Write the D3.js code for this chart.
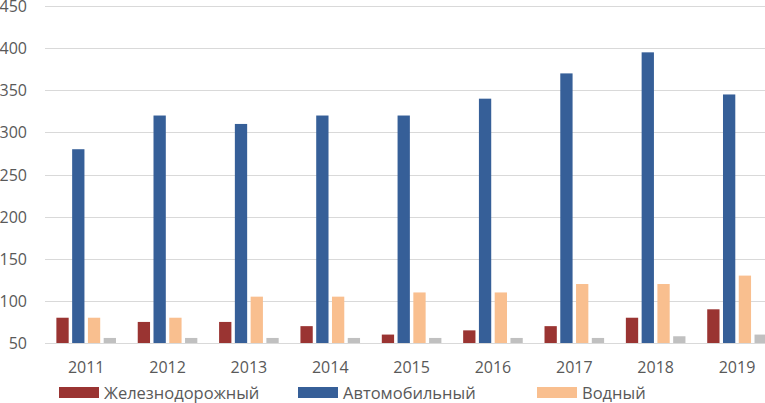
<!DOCTYPE html>
<html><head><meta charset="utf-8">
<script src="https://cdn.jsdelivr.net/npm/d3@7/dist/d3.min.js"></script>
<style>html,body{margin:0;padding:0;background:#fff;overflow:hidden}svg{display:block}</style>
</head><body><svg id="c" width="765" height="403"></svg>
<script>
const categories = ["2011","2012","2013","2014","2015","2016","2017","2018","2019"];
const seriesNames = ["Железнодорожный","Автомобильный","Водный","Воздушный"];
const rail  = [80, 75, 75, 70, 60, 65, 70, 80, 90];
const auto  = [280, 320, 310, 320, 320, 340, 370, 395, 345];
const water = [80, 80, 105, 105, 110, 110, 120, 120, 130];
const air   = [56, 56, 56, 56, 56, 56, 56, 58, 60];
const yTicks = [50,100,150,200,250,300,350,400,450];
const colors = ["#9A3432","#365F98","#F9BF8F","#C0C0C0"];
const legendShown = 3;

const svg = d3.select("#c");
const font = "'Open Sans', sans-serif";
const x0 = d3.scaleBand().domain(categories).range([45.5, 777.7]).paddingInner(0).paddingOuter(0);
const y = d3.scaleLinear().domain([50,450]).range([343,6]);
const seriesData = [rail, auto, water, air];
const x1 = d3.scaleBand().domain(d3.range(4)).range([0, 59.6]).paddingInner(0.22).paddingOuter(0);

// gridlines
svg.append("g").selectAll("line").data(yTicks).join("line")
  .attr("x1",45).attr("x2",765)
  .attr("y1",d=>Math.round(y(d))+0.5).attr("y2",d=>Math.round(y(d))+0.5)
  .attr("stroke","#D9D9D9").attr("stroke-width",1);

// y axis labels
const yAxis = d3.axisLeft(y).tickValues(yTicks).tickSize(0).tickPadding(0);
const gy = svg.append("g").attr("transform","translate(27,0)").call(yAxis);
gy.select(".domain").remove();
gy.selectAll("text").attr("font-family",font).attr("font-size","16px").attr("fill","#595959").attr("dy","0.35em");

// bars
const groups = svg.append("g").selectAll("g").data(categories).join("g")
  .attr("transform",d=>`translate(${x0(d)+x0.bandwidth()/2-29.8},0)`);
groups.selectAll("rect").data((d,i)=>seriesData.map((s,j)=>({j,v:s[i]}))).join("rect")
  .attr("x",d=>x1(d.j)).attr("width",x1.bandwidth())
  .attr("y",d=>y(d.v)).attr("height",d=>y(50)-y(d.v))
  .attr("fill",d=>colors[d.j]);

// x axis labels
const xAxis = d3.axisBottom(x0).tickSize(0).tickPadding(0);
const gx = svg.append("g").attr("transform","translate(0,362)").call(xAxis);
gx.select(".domain").remove();
gx.selectAll("text").attr("font-family",font).attr("font-size","16px").attr("fill","#595959").attr("dy","0.71em");

// legend
const legX = [59, 298, 537];
const leg = svg.append("g").selectAll("g").data(seriesNames.slice(0,legendShown)).join("g")
  .attr("transform",(d,i)=>`translate(${legX[i]},387)`);
leg.append("rect").attr("width",40).attr("height",11).attr("fill",(d,i)=>colors[i]);
leg.append("text").attr("x",45).attr("y",11.5).text(d=>d)
  .attr("font-family",font).attr("font-size","16.5px").attr("fill","#595959");
</script>
</body></html>
